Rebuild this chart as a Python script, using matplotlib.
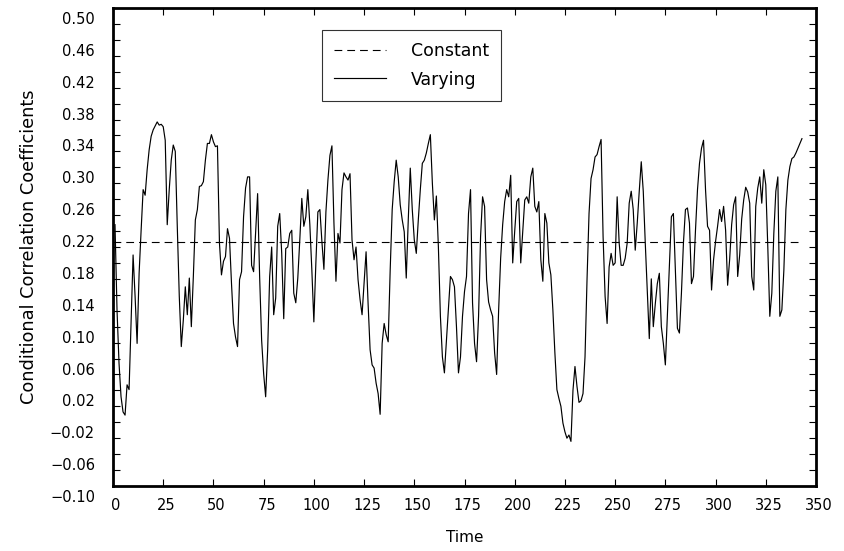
import numpy as np
import matplotlib
matplotlib.use("Agg")
import matplotlib.pyplot as plt
from matplotlib.transforms import ScaledTranslation
from matplotlib.ticker import MultipleLocator

# ---------------- data ----------------
varying = [
    0.228, 0.121, 0.054, 0.012, -0.007, -0.011, 0.027, 0.021, 0.104, 0.190,
    0.138, 0.079, 0.167, 0.221, 0.272, 0.265, 0.297, 0.322, 0.339, 0.347,
    0.352, 0.357, 0.353, 0.354, 0.351, 0.334, 0.228, 0.272, 0.309, 0.328,
    0.320, 0.226, 0.138, 0.075, 0.108, 0.150, 0.115, 0.161, 0.100, 0.163,
    0.234, 0.247, 0.276, 0.277, 0.282, 0.309, 0.330, 0.330, 0.341, 0.332,
    0.326, 0.327, 0.205, 0.165, 0.182, 0.188, 0.223, 0.211, 0.154, 0.104,
    0.087, 0.075, 0.159, 0.169, 0.238, 0.274, 0.288, 0.288, 0.177, 0.169,
    0.217, 0.267, 0.163, 0.083, 0.041, 0.012, 0.071, 0.163, 0.200, 0.115,
    0.136, 0.226, 0.242, 0.192, 0.110, 0.198, 0.200, 0.217, 0.221, 0.142,
    0.130, 0.161, 0.209, 0.261, 0.226, 0.238, 0.272, 0.228, 0.171, 0.106,
    0.180, 0.244, 0.247, 0.207, 0.172, 0.244, 0.284, 0.315, 0.327, 0.230,
    0.157, 0.217, 0.205, 0.272, 0.293, 0.288, 0.284, 0.292, 0.209, 0.184,
    0.200, 0.159, 0.134, 0.115, 0.154, 0.194, 0.129, 0.071, 0.052, 0.048,
    0.029, 0.016, -0.010, 0.079, 0.104, 0.090, 0.081, 0.171, 0.247, 0.282,
    0.309, 0.288, 0.253, 0.234, 0.219, 0.161, 0.234, 0.299, 0.247, 0.209,
    0.192, 0.234, 0.272, 0.305, 0.309, 0.318, 0.330, 0.341, 0.280, 0.234,
    0.264, 0.200, 0.113, 0.062, 0.042, 0.083, 0.125, 0.163, 0.159, 0.150,
    0.100, 0.042, 0.062, 0.113, 0.144, 0.163, 0.242, 0.272, 0.130, 0.079,
    0.056, 0.113, 0.213, 0.263, 0.251, 0.159, 0.131, 0.121, 0.113, 0.067,
    0.040, 0.121, 0.186, 0.228, 0.257, 0.272, 0.263, 0.290, 0.180, 0.220,
    0.257, 0.261, 0.180, 0.220, 0.259, 0.263, 0.255, 0.288, 0.299, 0.251,
    0.244, 0.257, 0.184, 0.157, 0.242, 0.230, 0.180, 0.165, 0.121, 0.067,
    0.021, 0.010, 0.000, -0.021, -0.032, -0.040, -0.036, -0.044, 0.020, 0.050,
    0.025, 0.005, 0.007, 0.016, 0.062, 0.159, 0.242, 0.286, 0.297, 0.313,
    0.316, 0.326, 0.335, 0.213, 0.138, 0.104, 0.175, 0.192, 0.177, 0.180,
    0.263, 0.205, 0.177, 0.177, 0.186, 0.205, 0.255, 0.270, 0.247, 0.196,
    0.230, 0.270, 0.307, 0.270, 0.205, 0.144, 0.085, 0.160, 0.100, 0.129,
    0.154, 0.167, 0.100, 0.079, 0.052, 0.113, 0.171, 0.238, 0.242, 0.171,
    0.098, 0.092, 0.142, 0.205, 0.247, 0.249, 0.230, 0.154, 0.163, 0.221,
    0.272, 0.305, 0.324, 0.334, 0.272, 0.226, 0.221, 0.146, 0.184, 0.207,
    0.226, 0.247, 0.232, 0.251, 0.221, 0.152, 0.184, 0.228, 0.253, 0.263,
    0.163, 0.190, 0.235, 0.259, 0.275, 0.269, 0.255, 0.163, 0.146, 0.251,
    0.274, 0.288, 0.255, 0.297, 0.278, 0.200, 0.113, 0.142, 0.217, 0.270,
    0.288, 0.113, 0.121, 0.171, 0.247, 0.284, 0.301, 0.311, 0.313, 0.318,
    0.324, 0.330, 0.336,
]
time = np.arange(1, len(varying) + 1)
constant_value = 0.206
constant_span = [0, 341]

x_ticks = [0, 25, 50, 75, 100, 125, 150, 175, 200, 225, 250, 275, 300, 325, 350]
y_ticks = [0.50, 0.46, 0.42, 0.38, 0.34, 0.30, 0.26, 0.22, 0.18, 0.14,
           0.10, 0.06, 0.02, -0.02, -0.06, -0.10]
y_tick_labels = ["0.50", "0.46", "0.42", "0.38", "0.34", "0.30", "0.26", "0.22",
                 "0.18", "0.14", "0.10", "0.06", "0.02", "\u22120.02", "\u22120.06",
                 "\u22120.10"]
series_labels = ["Constant", "Varying"]

# ---------------- figure ----------------
plt.rcParams['font.family'] = ['DejaVu Sans']
fig = plt.figure(figsize=(8.45, 5.51), dpi=100)
ax = fig.add_axes([113 / 845, 1 - 486 / 551, (816 - 113) / 845, (486 - 8) / 551])

ax.plot(constant_span, [constant_value, constant_value], color='black', lw=0.8,
        linestyle=(0, (7, 4.5)), label=series_labels[0])
ax.plot(time, varying, color='black', lw=0.85, label=series_labels[1])

ax.set_xlim(0, 350)
ax.set_ylim(-0.10, 0.50)

ax.set_xticks(x_ticks)
ax.set_xticklabels([str(v) for v in x_ticks])
ax.set_yticks(y_ticks)
ax.set_yticklabels(y_tick_labels)
ax.yaxis.set_minor_locator(MultipleLocator(0.02))

for s in ax.spines.values():
    s.set_linewidth(2.0)

ax.tick_params(axis='both', which='both', direction='in', length=5, width=0.8,
               top=True, right=True, labelsize=10.5)
ax.tick_params(axis='y', which='major', pad=13)
ax.tick_params(axis='x', which='major', pad=9)

# offset tick labels as in the reference
for lab in ax.get_yticklabels():
    lab.set_transform(lab.get_transform() + ScaledTranslation(0, -10 / 100, fig.dpi_scale_trans))
for lab in ax.get_xticklabels():
    lab.set_transform(lab.get_transform() + ScaledTranslation(3 / 100, 0, fig.dpi_scale_trans))

ax.set_xlabel("Time", fontsize=11)
ax.xaxis.set_label_coords(0.5, -0.092)
ax.set_ylabel("Conditional Correlation Coefficients", fontsize=12.8)
ax.yaxis.set_label_coords(-0.106, 0.5)

leg = fig.legend(loc='upper left', bbox_to_anchor=(322 / 845, 1 - 30 / 551),
                 frameon=True, fancybox=False, shadow=False, fontsize=12.5,
                 handlelength=3.0, handletextpad=1.4, labelspacing=0.6,
                 borderpad=0.7, borderaxespad=0)
leg.get_frame().set_edgecolor('black')
leg.get_frame().set_linewidth(0.8)

fig.savefig("out.png", dpi=100)
